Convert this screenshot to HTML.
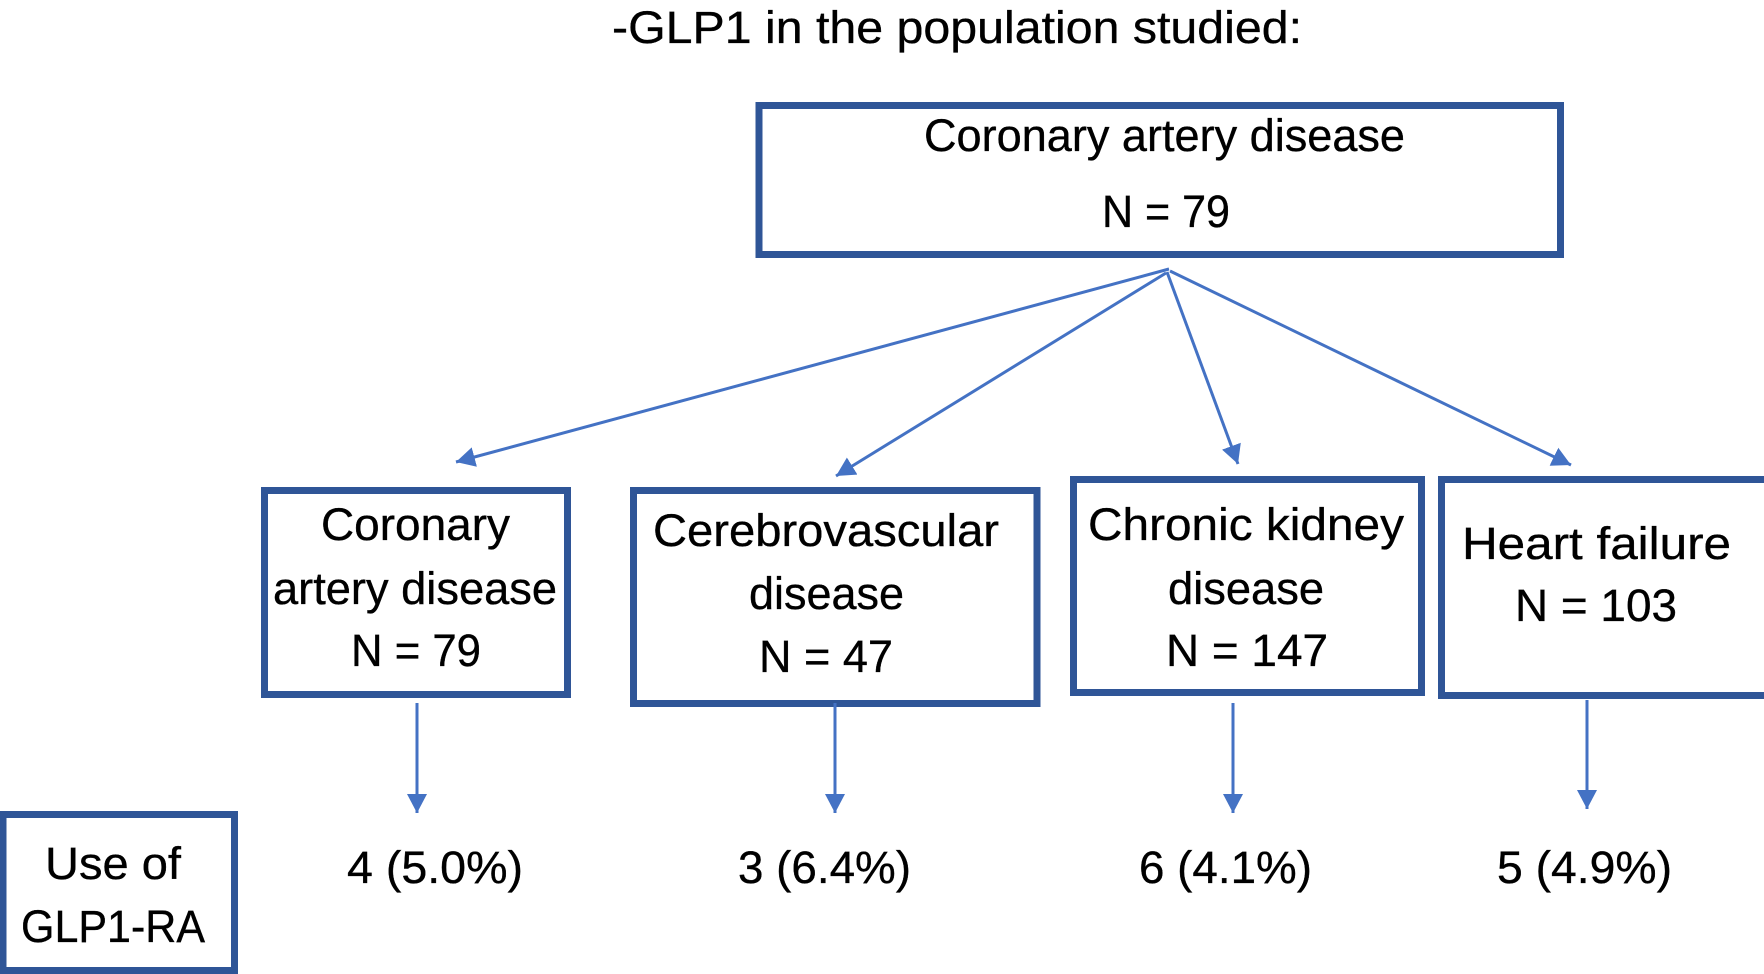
<!DOCTYPE html>
<html lang="en">
<head>
<meta charset="utf-8">
<title>GLP1 use in the population studied</title>
<style>
html,body{margin:0;padding:0;background:#fff;}
svg{display:block;}
text{font-family:"Liberation Sans",sans-serif;font-size:45px;fill:#000;stroke:#000;stroke-width:0.35px;}
.box{fill:#fff;stroke:#2f5597;stroke-width:7;}
.arrow{stroke:#4472c4;stroke-width:3;fill:none;marker-end:url(#arrowhead);}
</style>
</head>
<body>
<svg xmlns="http://www.w3.org/2000/svg" width="1764" height="974" viewBox="0 0 1764 974">
  <defs>
    <marker id="arrowhead" markerUnits="userSpaceOnUse" markerWidth="20" markerHeight="20" refX="19" refY="10" orient="auto">
      <path d="M0,0 L19,10 L0,20 Z" fill="#4472c4"/>
    </marker>
  </defs>
  <rect width="1764" height="974" fill="#fff"/>

  <text x="612" y="43" textLength="690" lengthAdjust="spacingAndGlyphs">-GLP1 in the population studied:</text>

  <g>
    <rect class="box" x="759" y="105.500" width="801.500" height="149"/>
    <text x="924" y="151" textLength="481" lengthAdjust="spacingAndGlyphs">Coronary artery disease</text>
    <text x="1102" y="227" textLength="128" lengthAdjust="spacingAndGlyphs">N = 79</text>
  </g>

  <g>
    <line class="arrow" x1="1169" y1="269" x2="456" y2="462"/>
    <line class="arrow" x1="1166" y1="273" x2="836" y2="476"/>
    <line class="arrow" x1="1167" y1="272" x2="1238" y2="464"/>
    <line class="arrow" x1="1170" y1="271" x2="1571" y2="465"/>
  </g>

  <g>
    <rect class="box" x="264.500" y="490.500" width="303" height="204"/>
    <text x="321" y="540" textLength="189" lengthAdjust="spacingAndGlyphs">Coronary</text>
    <text x="273" y="604" textLength="284" lengthAdjust="spacingAndGlyphs">artery disease</text>
    <text x="351" y="666" textLength="130" lengthAdjust="spacingAndGlyphs">N = 79</text>
  </g>

  <g>
    <rect class="box" x="633.500" y="490.500" width="403.500" height="213"/>
    <text x="653" y="546" textLength="346" lengthAdjust="spacingAndGlyphs">Cerebrovascular</text>
    <text x="749" y="609" textLength="155" lengthAdjust="spacingAndGlyphs">disease</text>
    <text x="759" y="672" textLength="134" lengthAdjust="spacingAndGlyphs">N = 47</text>
  </g>

  <g>
    <rect class="box" x="1073.500" y="479.500" width="348" height="213"/>
    <text x="1088" y="540" textLength="316" lengthAdjust="spacingAndGlyphs">Chronic kidney</text>
    <text x="1168" y="604" textLength="156" lengthAdjust="spacingAndGlyphs">disease</text>
    <text x="1166" y="666" textLength="162" lengthAdjust="spacingAndGlyphs">N = 147</text>
  </g>

  <g>
    <rect class="box" x="1441.500" y="479.500" width="330" height="216"/>
    <text x="1462" y="559" textLength="269" lengthAdjust="spacingAndGlyphs">Heart failure</text>
    <text x="1515" y="621" textLength="162" lengthAdjust="spacingAndGlyphs">N = 103</text>
  </g>

  <g>
    <line class="arrow" x1="417" y1="703" x2="417" y2="813"/>
    <line class="arrow" x1="835" y1="703" x2="835" y2="813"/>
    <line class="arrow" x1="1233" y1="703" x2="1233" y2="813"/>
    <line class="arrow" x1="1587" y1="700" x2="1587" y2="809"/>
  </g>

  <g>
    <rect class="box" x="3" y="814.500" width="231.500" height="156"/>
    <text x="45" y="879" textLength="136" lengthAdjust="spacingAndGlyphs">Use of</text>
    <text x="21" y="942" textLength="184" lengthAdjust="spacingAndGlyphs">GLP1-RA</text>
  </g>

  <g>
    <text x="347" y="883" textLength="176" lengthAdjust="spacingAndGlyphs">4 (5.0%)</text>
    <text x="738" y="883" textLength="173" lengthAdjust="spacingAndGlyphs">3 (6.4%)</text>
    <text x="1139" y="883" textLength="173" lengthAdjust="spacingAndGlyphs">6 (4.1%)</text>
    <text x="1497" y="883" textLength="175" lengthAdjust="spacingAndGlyphs">5 (4.9%)</text>
  </g>
</svg>
</body>
</html>
